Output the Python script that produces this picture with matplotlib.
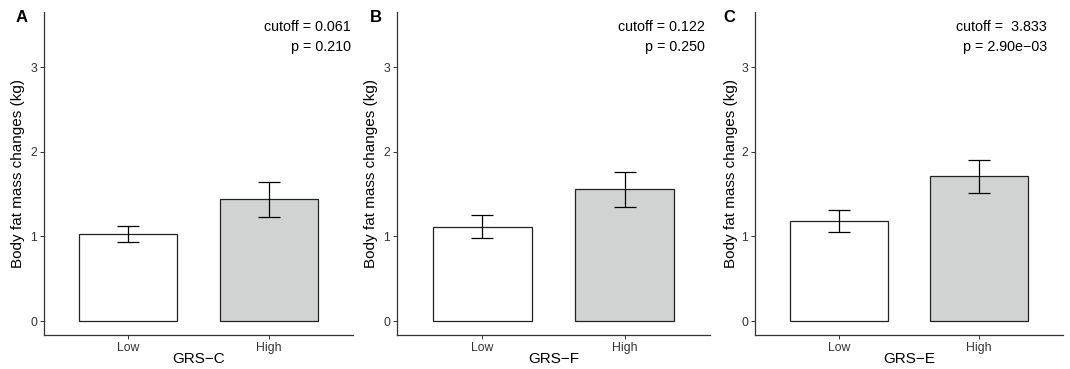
import matplotlib
matplotlib.use("Agg")
import matplotlib.pyplot as plt

plt.rcParams['font.family'] = ['Liberation Sans', 'DejaVu Sans']

groups = ["Low", "High"]
panel_letters = ["A", "B", "C"]
x_titles = ["GRS\u2212C", "GRS\u2212F", "GRS\u2212E"]
means = [[1.03, 1.44], [1.113, 1.555], [1.18, 1.716]]
err_low = [[0.93, 1.23], [0.98, 1.346], [1.047, 1.51]]
err_high = [[1.128, 1.645], [1.25, 1.763], [1.314, 1.905]]
cutoff_text = ["cutoff = 0.061", "cutoff = 0.122", "cutoff =  3.833"]
p_text = ["p = 0.210", "p = 0.250", "p = 2.90e\u221203"]

fills = ["white", "#D1D3D2"]
lefts = [44 / 1070, 397 / 1070, 755 / 1070]
widths = [309 / 1070, 313 / 1070, 308 / 1070]
text_right = [0.993, 0.984, 0.948]
ylabel_x = [-0.061, -0.061, -0.055]
letter_x = [22 / 1070, 376 / 1070, 729 / 1070]

fig = plt.figure(figsize=(10.7, 3.69), dpi=100)

for i in range(3):
    ax = fig.add_axes([lefts[i], 34 / 369, widths[i], 323 / 369])
    xpos = [1, 2]
    ax.bar(xpos, means[i], width=0.7, color=fills, edgecolor="#222222", linewidth=0.9, zorder=2)
    lo = [m - l for m, l in zip(means[i], err_low[i])]
    hi = [h - m for m, h in zip(means[i], err_high[i])]
    ax.errorbar(xpos, means[i], yerr=[lo, hi], fmt="none", ecolor="black",
                elinewidth=0.9, capsize=7.6, capthick=0.9, zorder=3)
    ax.set_xlim(0.4, 2.6)
    ax.set_ylim(-0.165, 3.65)
    ax.set_xticks(xpos)
    ax.set_xticklabels(groups)
    ax.set_yticks([0, 1, 2, 3])
    ax.set_yticklabels(["0", "1", "2", "3"])
    ax.tick_params(axis="both", labelsize=8.8, labelcolor="#333333", color="#333333",
                   length=3, width=0.7, pad=2)
    for s in ["top", "right"]:
        ax.spines[s].set_visible(False)
    for s in ["left", "bottom"]:
        ax.spines[s].set_color("#333333")
        ax.spines[s].set_linewidth(0.9)
    ax.set_ylabel("Body fat mass changes (kg)", fontsize=11)
    ax.yaxis.set_label_coords(ylabel_x[i], 0.5)
    ax.set_xlabel(x_titles[i], fontsize=11)
    ax.xaxis.set_label_coords(0.5, -0.054)
    ax.text(text_right[i], 0.954, cutoff_text[i], transform=ax.transAxes,
            ha="right", va="center", fontsize=10.3)
    ax.text(text_right[i], 0.892, p_text[i], transform=ax.transAxes,
            ha="right", va="center", fontsize=10.3)
    fig.text(letter_x[i], 1 - 18 / 369, panel_letters[i], ha="center", va="center",
             fontsize=12, fontweight="bold")

fig.savefig("out.png", dpi=100)
